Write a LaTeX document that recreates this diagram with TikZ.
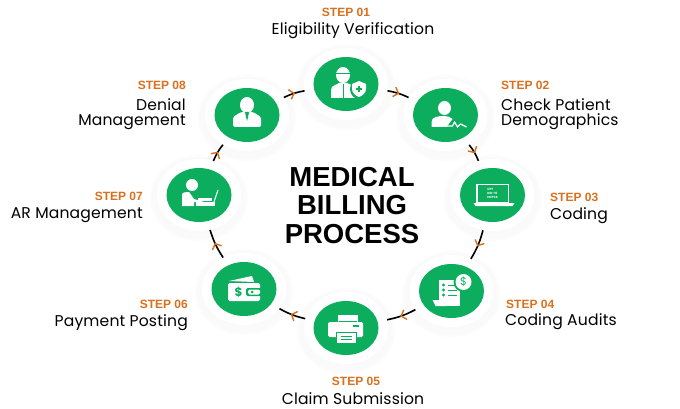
\documentclass[tikz,border=0pt]{standalone}
\usepackage{fontspec}
\setmainfont{Poppins}
\newfontfamily\headfont{Liberation Sans}
\usepackage{tikz}
\usetikzlibrary{arrows.meta, shapes.geometric, decorations.markings}
\definecolor{medgreen}{RGB}{12,174,93}
\definecolor{steporange}{RGB}{217,112,30}
\tikzset{
  halo/.style={ellipse, fill=white, minimum width=84pt, minimum height=72pt, inner sep=0pt},
  disc/.style={ellipse, fill=medgreen, minimum width=65pt, minimum height=54pt, inner sep=0pt},
  link/.style={line width=1.6pt, black, postaction={decorate}, decoration={markings,
    mark=at position 0.55 with {\arrow[steporange, line width=1.4pt]{Straight Barb[length=4.5pt,width=10pt]}}}},
  steplabel/.style={text=steporange, font=\headfont\fontsize{12}{13}\selectfont\bfseries, inner sep=0pt},
  namelabel/.style={text=black, font=\fontsize{15.6}{15}\selectfont\addfontfeature{LetterSpace=1}, inner sep=0pt, align=center},
  icon/.style={fill=white, draw=none},
  iconline/.style={draw=white, line width=1pt},
  greenline/.style={draw=medgreen, line width=.8pt},
}
\begin{document}
\begin{tikzpicture}[x=1pt, y=-1pt, >=Stealth]
\useasboundingbox (0,0) rectangle (680,409);
\fill[white] (0,0) rectangle (680,409);
% soft shadow, then white ring and green disc
\foreach \nm/\px/\py in {n1/346/84, n2/445.5/115, n3/492.5/195, n4/451.5/291, n5/346/328, n6/244/289, n7/199/195, n8/247/115} {
  \foreach \grow in {7,5,3,1} {
    \fill[black!2, opacity=.5] (\px,\py+3) ellipse ({42+\grow} and {36+\grow});
  }
  \node[halo] (\nm) at (\px,\py) {};
  \node[disc] (\nm d) at (\px,\py) {};
}
% connectors
\draw[link] (n1) to[bend left=8] (n2);
\draw[link] (n2) to[bend left=8] (n3);
\draw[link] (n3) to[bend left=8] (n4);
\draw[link] (n4) to[bend left=8] (n5);
\draw[link] (n5) to[bend left=8] (n6);
\draw[link] (n6) to[bend left=8] (n7);
\draw[link] (n7) to[bend left=8] (n8);
\draw[link] (n8) to[bend left=8] (n1);
% icons
\begin{scope}[shift={(n1)}] % doctor
  \fill[icon] (-3,-9) ellipse (7 and 8);
  \fill[icon] (-15,14) -- (-15,6) .. controls (-15,1) and (-9,1) .. (-7,-1) -- (1,-1) .. controls (4,1) and (8,1) .. (10,4) -- (10,14) -- cycle;
  \draw[greenline] (-3,0) -- (-3,14) (-10,-11) -- (4,-11);
  \fill[medgreen] (13,5) ellipse (9 and 10);
  \fill[icon] (6,0) -- (13,-3) -- (20,0) -- (20,5) .. controls (20,9) and (16,12) .. (13,13) .. controls (10,12) and (6,9) .. (6,5) -- cycle;
  \draw[draw=medgreen, line width=1.1pt] (13,2) -- (13,8) (10,5) -- (16,5);
\end{scope}
\begin{scope}[shift={(n2)}] % patient
  \fill[icon] (-1,-7) ellipse (6.5 and 7);
  \fill[icon] (-14,12) -- (-14,7) .. controls (-14,2) and (-8,1) .. (-1,1) .. controls (2,1) and (5,2) .. (7,4) -- (1,12) -- cycle;
  \draw[draw=white, line width=1.2pt] (0,11) -- (7,11) -- (9,7) -- (12,12) -- (15,9) -- (21,12);
\end{scope}
\begin{scope}[shift={(n3)}] % laptop
  \draw[draw=white, line width=1.2pt] (-15.5,-10.5) rectangle (16,7.5);
  \fill[icon] (-19,8) -- (22,8) -- (20,11) -- (-17,11) -- cycle;
  \node[inner sep=0pt, text=white, font=\fontsize{3}{3.6}\selectfont\bfseries, align=left] (n3t) at (0,-1.5) {CPT\\ICD-10\\HCPCS};
\end{scope}
\begin{scope}[shift={(n4)}] % audit sheet
  \fill[icon] (-13,-11) -- (8,-11) -- (8,15) -- (-13,15) -- cycle;
  \fill[icon] (-19,9) -- (-5,9) -- (-5,15) -- (-16,15) -- cycle;
  \foreach \ly in {-6,-1,4} {
    \fill[medgreen] (-8,\ly) circle (1.7);
    \draw[greenline] (-4,\ly) -- (5,\ly);
  }
  \fill[medgreen] (12,-9) circle (10);
  \fill[icon] (12,-9) circle (8);
  \node[inner sep=0pt, text=medgreen, font=\fontsize{11}{11}\selectfont] (n4t) at (12,-9) {\$};
\end{scope}
\begin{scope}[shift={(n5)}] % printer
  \fill[icon, rounded corners=1.5pt] (-18,-6) rectangle (17,9);
  \fill[icon] (-8,-13) rectangle (11,-7);
  \draw[draw=white, line width=1pt] (-8,-13) rectangle (11,-6);
  \fill[icon] (-9.5,4) rectangle (10,15);
  \draw[greenline] (-9.5,4) rectangle (10,15) (-5.5,8) -- (6,8) (-5.5,11) -- (6,11);
  \fill[medgreen] (7,-3) rectangle (13,-1);
\end{scope}
\begin{scope}[shift={(n6)}] % wallet
  \fill[icon] (-15,-8) -- (8,-13) -- (10,-7) -- cycle;
  \fill[icon, rounded corners=1.5pt] (-16,-6) rectangle (16,12);
  \fill[medgreen, rounded corners=1.5pt] (2,-1) rectangle (18,7);
  \fill[icon, rounded corners=1.5pt] (4,0.5) rectangle (16,5.5);
  \fill[medgreen] (8,3) circle (1.5);
  \node[inner sep=0pt, text=medgreen, font=\fontsize{12}{12}\selectfont\bfseries] (n6t) at (-5.5,3) {\$};
\end{scope}
\begin{scope}[shift={(n7)}] % biller at a laptop
  \fill[icon] (-7,-10) circle (6);
  \fill[icon] (-17,11) -- (-17,0) .. controls (-17,-3) and (-13,-3) .. (-10,-3) -- (-5,4) -- (5,7) -- (-5,7) -- (-5,11) -- cycle;
  \fill[icon] (-3,7) rectangle (16,11);
  \draw[iconline] (14,10) -- (19,-5);
  \fill[icon] (-1,3) rectangle (13,6);
\end{scope}
\begin{scope}[shift={(n8)}] % manager
  \fill[icon] (0,-10) ellipse (7 and 8);
  \fill[icon, rounded corners=1.5pt] (-14,12) -- (-14,2) -- (-6,-3) -- (6,-3) -- (14,2) -- (14,12) -- cycle;
  \fill[medgreen] (-2,-3) -- (2,-3) -- (1,2) -- (0,6) -- (-1,2) -- cycle;
\end{scope}
% title
\node[inner sep=0pt, font=\headfont\fontsize{27.5}{28.5}\selectfont\bfseries, align=center] (title) at (352,205.5) {MEDICAL\\BILLING\\PROCESS};
% step labels
\node[steplabel] (s1) at (346,12) {STEP 01};
\node[namelabel] (l1) at (353,31) {Eligibility Verification};
\node[steplabel, anchor=west] (s2) at (501,85) {STEP 02};
\node[namelabel, anchor=north west, align=left] (l2) at (501,98) {Check Patient\\Demographics};
\node[steplabel, anchor=west] (s3) at (550,197) {STEP 03};
\node[namelabel, anchor=west] (l3) at (550,216) {Coding};
\node[steplabel, anchor=west] (s4) at (506,304) {STEP 04};
\node[namelabel, anchor=west] (l4) at (505,322) {Coding Audits};
\node[steplabel] (s5) at (356,381) {STEP 05};
\node[namelabel] (l5) at (353,399) {Claim Submission};
\node[steplabel, anchor=east] (s6) at (188,304) {STEP 06};
\node[namelabel, anchor=east] (l6) at (188,323) {Payment Posting};
\node[steplabel, anchor=east] (s7) at (143,196) {STEP 07};
\node[namelabel, anchor=east] (l7) at (143,215) {AR Management};
\node[steplabel, anchor=east] (s8) at (186,85) {STEP 08};
\node[namelabel, anchor=north east, align=right] (l8) at (186,98) {Denial\\Management};
\end{tikzpicture}
\end{document}
